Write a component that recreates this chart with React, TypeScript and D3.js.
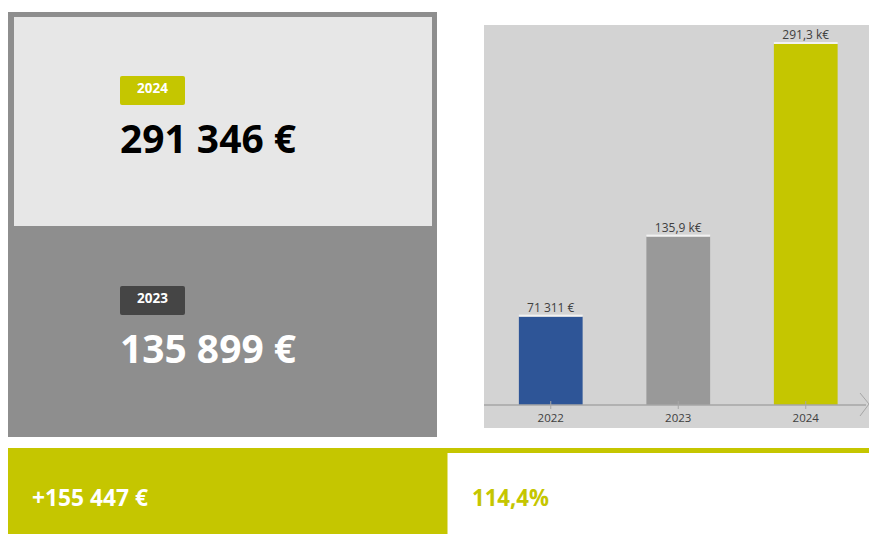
import React from "react";
import * as d3 from "d3";

const years = ["2022", "2023", "2024"];
const values = [71311, 135899, 291346];
const valueLabels = ["71 311 €", "135,9 k€", "291,3 k€"];
const barColors = ["#2e5597", "#999999", "#c5c600"];

const currentYear = "2024";
const currentValue = "291 346 €";
const previousYear = "2023";
const previousValue = "135 899 €";
const diffValue = "+155 447 €";
const diffPct = "114,4%";

const GREEN = "#c5c600";
const FONT = "'Open Sans', 'Noto Sans', sans-serif";

export default function App() {
  const W = 869;
  const H = 534;
  const baseY = 405;
  const x = d3.scaleBand<string>().domain(years).range([487, 869.5]).paddingInner(0.5).paddingOuter(0.25);
  const y = d3.scaleLinear().domain([0, d3.max(values) as number]).range([baseY, 44]);

  return (
    <svg width={W} height={H} style={{ position: "absolute", left: 0, top: 0 }} fontFamily={FONT}>
      {/* Left KPI panel */}
      <rect x={8} y={12} width={429} height={425} fill="#8e8e8e" />
      <rect x={14} y={17} width={418} height={209} fill="#e7e7e7" />

      <rect x={120} y={76} width={65} height={29} rx={2} fill={GREEN} />
      <text x={152.5} y={92.5} textAnchor="middle" fontSize={13.5} fontWeight={700} fill="#ffffff">{currentYear}</text>
      <text x={120} y={153} fontSize={39} fontWeight={700} fill="#000000" textLength={176} lengthAdjust="spacingAndGlyphs">{currentValue}</text>

      <rect x={120} y={286} width={65} height={29} rx={2} fill="#454545" />
      <text x={152.5} y={302.5} textAnchor="middle" fontSize={13.5} fontWeight={700} fill="#ffffff">{previousYear}</text>
      <text x={120} y={363} fontSize={39} fontWeight={700} fill="#ffffff" textLength={176} lengthAdjust="spacingAndGlyphs">{previousValue}</text>

      {/* Bottom band */}
      <rect x={8} y={448} width={439.5} height={86} fill={GREEN} />
      <rect x={447} y={448} width={422} height={5} fill={GREEN} />
      <text x={32} y={506} fontSize={23} fontWeight={700} fill="#ffffff" textLength={116} lengthAdjust="spacingAndGlyphs">{diffValue}</text>
      <text x={472} y={506} fontSize={23} fontWeight={700} fill={GREEN} textLength={77} lengthAdjust="spacingAndGlyphs">{diffPct}</text>

      {/* Bar chart panel */}
      <rect x={484} y={25} width={385} height={403} fill="#d3d3d3" />
      {years.map((yr, i) => {
        const bx = x(yr) as number;
        const bw = x.bandwidth();
        const top = y(values[i]);
        return (
          <g key={yr}>
            <rect x={bx} y={top} width={bw} height={baseY - top} fill={barColors[i]} />
            <rect x={bx} y={top - 2} width={bw} height={2} fill="#f2f2f2" />
            <text x={bx + bw / 2} y={top - 5} textAnchor="middle" fontSize={12} fill="#404040">{valueLabels[i]}</text>
          </g>
        );
      })}
      <line x1={484} x2={866} y1={baseY} y2={baseY} stroke="#a6a6a6" strokeWidth={1.5} />
      <polyline points={`860,393 869,404 860,416`} fill="none" stroke="#a6a6a6" strokeWidth={1} />
      {years.map((yr) => {
        const cx = (x(yr) as number) + x.bandwidth() / 2;
        return (
          <g key={"t" + yr}>
            <line x1={cx} x2={cx} y1={401} y2={409} stroke="#a6a6a6" strokeWidth={1} />
            <text x={cx} y={422} textAnchor="middle" fontSize={11.5} fill="#404040">{yr}</text>
          </g>
        );
      })}
    </svg>
  );
}
